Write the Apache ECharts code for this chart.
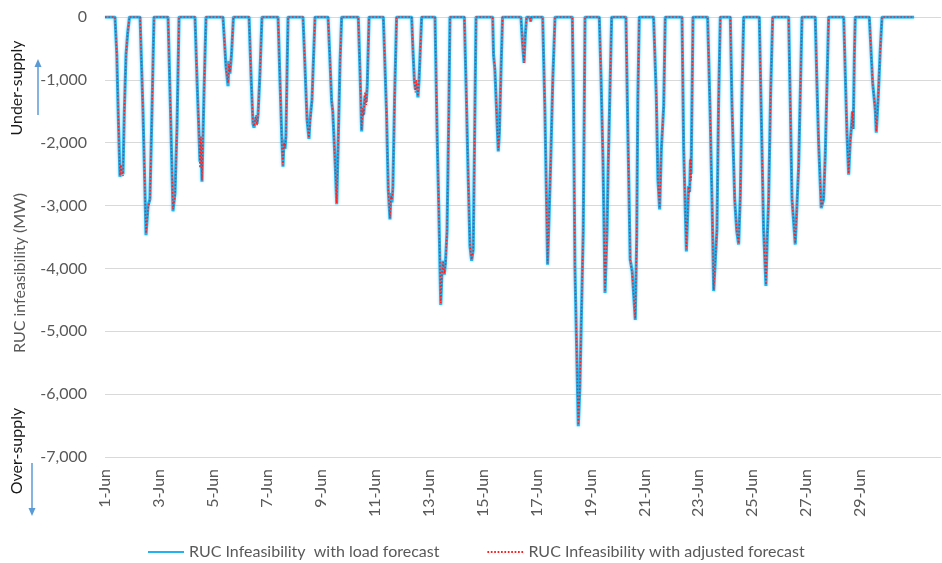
<!DOCTYPE html>
<html>
<head>
<meta charset="utf-8">
<script src="https://cdn.jsdelivr.net/npm/echarts@6/dist/echarts.min.js"></script>
<style>
html,body{margin:0;padding:0;background:#fff;}
#chart{width:942px;height:563px;}
</style>
</head>
<body>
<div id="chart"></div>
<script>
// Hour of the month (0 = 1-Jun 00:00) for each reading
const hourOfMonth = [
  0, 8.9, 10.5, 12, 13.3, 14.2, 15.1, 16, 17.2, 18.7, 20.2, 21.8,
  31.2, 33.8, 36.5, 38.3, 40, 41.8, 43.6,
  56.1, 58.3, 60.5, 62.3, 64.1, 65.9,
  80.1, 81.9, 83.6, 84.5, 85.4, 86.3, 88.1, 89.9,
  105, 107.7, 109.5, 110.3, 111.2, 112.6, 114.3,
  128.2, 129.9, 131.7, 132.6, 134.4, 135.3, 136.2, 137.9, 139.7,
  154, 155.7, 157.5, 158.4, 159.3, 160.2, 161, 162.9,
  176.2, 178, 179.8, 181.5, 182.4, 184.2, 186.9,
  198.5, 200, 201.7, 202.7, 205, 206.2, 207.8, 209.2, 210.6,
  225.4, 227, 228.4, 229.3, 230.2, 231.4, 232.5, 233.4, 235,
  247.7, 250.5, 252.1, 253.6, 254.5, 255.4, 256.2, 257.7, 259.5,
  272.9, 274, 275.3, 276.2, 277.1, 278.5, 279.5, 281.8,
  293.7, 295.5, 297, 298.8, 300, 301, 302, 303, 304.4, 306, 307,
  319.8, 321.5, 323.3, 324.8, 326.3, 327.7, 329, 330.2,
  345, 345.8, 347, 348.5, 350, 351, 352.5, 353.8,
  370.2, 371.5, 372.9, 374, 375.2, 378, 378.8, 379.7,
  389.5, 391.5, 393, 393.9, 396.5, 398.5, 400.5,
  415.9, 417, 418.2, 420, 421.2, 422.6, 425.6, 427.2,
  439.9, 441.5, 443.2, 445, 446.8, 447.8, 450.9,
  463.6, 465.5, 467.4, 469.2, 471.9, 473.2, 474.2, 475.5,
  488.2, 490.6, 492.1, 493.6, 495.1, 497.2, 498.6,
  513.5, 515, 517.4, 519.4, 520.3, 521, 521.6, 523.3,
  536.3, 538.5, 540.3, 541.7, 544.6, 546.1, 547.6,
  556.5, 558, 560.4, 562.2, 563.9, 565.4, 566.9, 568.4,
  582.3, 584, 586.1, 588.2, 589.4, 590.6, 592.4, 594.2,
  608.4, 610, 611.4, 614.3, 617.3, 620.3,
  632.1, 633.5, 635.1, 637.4, 639.5, 641, 644,
  657.4, 660.3, 661.8, 663.3, 664.3, 665.2, 665.9, 666.9, 667.7,
  680.2, 683.2, 685.5, 686.4, 688, 690, 691.5,
  720
];

// RUC infeasibility with load forecast (MW)
const loadForecastMW = [
  0, 0, -600, -1700, -2540, -2450, -2400, -2500, -1500, -600, -250, 0,
  0, -1500, -3470, -3000, -2900, -1500, 0,
  0, -1500, -3090, -2800, -1740, 0,
  0, -1000, -1850, -2300, -2000, -2620, -1200, 0,
  0, -790, -1100, -700, -900, -600, 0,
  0, -900, -1700, -1760, -1600, -1700, -1550, -900, 0,
  0, -1000, -2000, -2380, -1950, -2100, -1900, 0,
  0, -800, -1630, -1940, -1650, -1320, 0,
  0, -600, -1340, -1500, -2400, -2980, -1800, -700, 0,
  0, -900, -1820, -1500, -1550, -1250, -1350, -1100, 0,
  0, -1500, -2750, -3220, -2800, -2950, -2700, -1300, 0,
  0, -500, -1000, -1150, -1050, -1280, -1000, 0,
  0, -1800, -3000, -4580, -4000, -3880, -4100, -3900, -3400, -1500, 0,
  0, -1200, -2600, -3650, -3880, -3700, -1800, 0,
  0, -600, -850, -1500, -2140, -1830, -800, 0,
  0, -400, -730, -300, 0, 0, -70, 0,
  0, -1500, -3000, -3940, -2400, -1000, 0,
  0, -1500, -3960, -5500, -6510, -5900, -3400, 0,
  0, -1000, -2300, -4390, -3400, -2400, 0,
  0, -2000, -3860, -4050, -4820, -3500, -1300, 0,
  0, -1240, -2590, -3060, -2110, -1420, 0,
  0, -2110, -3730, -2690, -2780, -2270, -2500, 0,
  0, -1500, -3000, -4360, -3380, -1330, 0,
  0, -1420, -2900, -3400, -3620, -2850, -1200, 0,
  0, -1500, -3380, -4280, -3500, -2900, -1200, 0,
  0, -1500, -2900, -3620, -2380, 0,
  0, -1000, -2010, -3040, -2900, -2190, 0,
  0, -1850, -2510, -1960, -1750, -1500, -1780, -600, 0,
  0, -1050, -1480, -1840, -1320, -500, 0,
  0
];

// RUC infeasibility with adjusted forecast (MW)
const adjustedForecastMW = [
  0, 0, -600, -1700, -2520, -2350, -2480, -2530, -1500, -600, -250, 0,
  0, -1500, -3440, -3050, -2900, -1500, 0,
  0, -1500, -3060, -2850, -1740, 0,
  0, -1000, -1800, -2400, -1900, -2600, -1200, 0,
  0, -820, -1050, -750, -880, -560, 0,
  0, -900, -1680, -1740, -1560, -1720, -1580, -900, 0,
  0, -1000, -2050, -2360, -2000, -2080, -1900, 0,
  0, -800, -1650, -1920, -1700, -1320, 0,
  0, -600, -1340, -1500, -2400, -2960, -1800, -700, 0,
  0, -900, -1800, -1450, -1570, -1200, -1400, -1080, 0,
  0, -1500, -2750, -3200, -2850, -2900, -2750, -1300, 0,
  0, -500, -1020, -1200, -1000, -1260, -1000, 0,
  0, -1800, -3000, -4550, -4050, -3900, -4080, -3950, -3400, -1500, 0,
  0, -1200, -2600, -3650, -3860, -3720, -1800, 0,
  0, -650, -800, -1500, -2120, -1850, -800, 0,
  0, -400, -730, -300, 0, 0, -70, 0,
  0, -1500, -3000, -3920, -2400, -1000, 0,
  0, -1500, -3960, -5500, -6490, -5900, -3400, 0,
  0, -1000, -2300, -4370, -3400, -2400, 0,
  0, -2000, -3860, -4080, -4800, -3500, -1300, 0,
  0, -1240, -2590, -3040, -2110, -1420, 0,
  0, -2110, -3700, -2700, -2800, -2250, -2600, 0,
  0, -1500, -3000, -4340, -3380, -1330, 0,
  0, -1420, -2900, -3400, -3600, -2850, -1200, 0,
  0, -1500, -3380, -4260, -3500, -2900, -1200, 0,
  0, -1500, -2900, -3600, -2380, 0,
  0, -1000, -2010, -3020, -2900, -2190, 0,
  0, -1850, -2490, -1960, -1750, -1500, -1780, -600, 0,
  0, -1050, -1480, -1820, -1320, -500, 0,
  0
];

// x-axis tick labels, one every 48 hours
const tickLabels = ['1-Jun','3-Jun','5-Jun','7-Jun','9-Jun','11-Jun','13-Jun','15-Jun',
  '17-Jun','19-Jun','21-Jun','23-Jun','25-Jun','27-Jun','29-Jun'];

const seriesNames = ['RUC Infeasibility  with load forecast', 'RUC Infeasibility with adjusted forecast'];

const FONT = 'Lato, "Open Sans", sans-serif';
const GREY = '#595959';

function pairs(ys) { return hourOfMonth.map((h, i) => [h, ys[i]]); }

const chart = echarts.init(document.getElementById('chart'), null, {renderer: 'canvas'});
chart.setOption({
  animation: false,
  backgroundColor: '#ffffff',
  grid: {left: 105, right: 1, top: 17, bottom: 106, containLabel: false},
  legend: {
    left: 142, top: 539,
    itemWidth: 36, itemHeight: 14, itemGap: 47,
    itemStyle: {opacity: 0},
    textStyle: {color: GREY, fontFamily: FONT, fontSize: 16},
    data: seriesNames
  },
  xAxis: {
    type: 'value', min: 0, max: 744, interval: 48,
    splitLine: {show: false},
    axisTick: {show: false},
    axisLine: {show: false},
    axisLabel: {
      rotate: 90, margin: 12, color: GREY, fontFamily: FONT, fontSize: 16,
      showMaxLabel: false,
      formatter: v => tickLabels[Math.round(v / 48)] || ''
    }
  },
  yAxis: {
    type: 'value', min: -7000, max: 0, interval: 1000,
    axisLine: {show: false}, axisTick: {show: false},
    splitLine: {lineStyle: {color: '#D9D9D9', width: 1}},
    axisLabel: {
      margin: 18, color: GREY, fontFamily: FONT, fontSize: 16,
      formatter: v => v.toLocaleString('en-US')
    }
  },
  graphic: [
    {type: 'text', x: 20, y: 273, rotation: Math.PI / 2,
     style: {text: 'RUC infeasibility (MW)', align: 'center', verticalAlign: 'middle', fill: GREY, font: '16px ' + FONT}},
    {type: 'text', x: 17, y: 88, rotation: Math.PI / 2,
     style: {text: 'Under-supply', align: 'center', verticalAlign: 'middle', fill: '#1a1a1a', font: '16px ' + FONT}},
    {type: 'text', x: 17, y: 451, rotation: Math.PI / 2,
     style: {text: 'Over-supply', align: 'center', verticalAlign: 'middle', fill: '#1a1a1a', font: '16px ' + FONT}},
    {type: 'line', shape: {x1: 38, y1: 115, x2: 38, y2: 66}, style: {stroke: '#5B9BD5', lineWidth: 1.5}},
    {type: 'polygon', shape: {points: [[38, 59], [34.5, 67], [41.5, 67]]}, style: {fill: '#5B9BD5'}},
    {type: 'line', shape: {x1: 32, y1: 463, x2: 32, y2: 509}, style: {stroke: '#5B9BD5', lineWidth: 1.5}},
    {type: 'polygon', shape: {points: [[32, 516], [28.5, 508], [35.5, 508]]}, style: {fill: '#5B9BD5'}}
  ],
  series: [
    {
      name: seriesNames[0], type: 'line', symbol: 'none', smooth: false,
      data: pairs(loadForecastMW),
      lineStyle: {color: '#22B2EE', width: 3, shadowColor: 'rgba(0,176,240,0.4)', shadowBlur: 3},
      itemStyle: {color: '#22B2EE'},
      z: 2
    },
    {
      name: seriesNames[1], type: 'line', symbol: 'none', smooth: false,
      data: pairs(adjustedForecastMW),
      lineStyle: {color: '#FF1F1F', width: 1.5, type: [1.7, 1.7]},
      itemStyle: {color: '#FF1F1F'},
      z: 3
    }
  ]
});
</script>
</body>
</html>
